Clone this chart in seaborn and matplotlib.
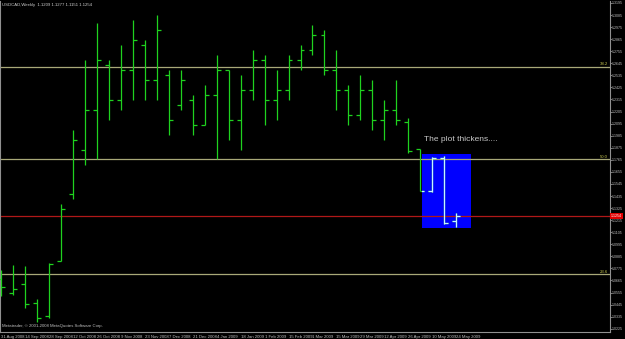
import matplotlib
matplotlib.use("Agg")
import matplotlib.pyplot as plt
import matplotlib.patches as mpatches
import matplotlib.transforms as mtransforms
import seaborn as sns
import numpy as np

# ---------------- data ----------------
week_labels = ["31 Aug 2008", "14 Sep 2008", "28 Sep 2008", "12 Oct 2008", "26 Oct 2008",
               "9 Nov 2008", "23 Nov 2008", "7 Dec 2008", "21 Dec 2008", "4 Jan 2009",
               "18 Jan 2009", "1 Feb 2009", "15 Feb 2009", "1 Mar 2009", "15 Mar 2009",
               "29 Mar 2009", "12 Apr 2009", "26 Apr 2009", "10 May 2009", "24 May 2009"]

opens = [1.0677, 1.0549, 1.0631, 1.0459, 1.0340, 1.0840, 1.1449, 1.1858, 1.2222, 1.2631,
         1.2313, 1.2586, 1.2813, 1.2495, 1.2540, 1.2268, 1.2313, 1.2086, 1.2358, 1.2586,
         1.2131, 1.2404, 1.2677, 1.2313, 1.2404, 1.2677, 1.2768, 1.2904, 1.2586, 1.2404,
         1.2177, 1.2404, 1.2131, 1.2222, 1.2113, 1.1868, 1.1477, 1.1777, 1.1209]
highs = [1.0759, 1.0804, 1.0795, 1.0495, 1.0822, 1.1359, 1.2040, 1.2677, 1.3013, 1.2677,
         1.2813, 1.3040, 1.2858, 1.3086, 1.2586, 1.2586, 1.2358, 1.2449, 1.2722, 1.2586,
         1.2540, 1.2768, 1.2722, 1.2586, 1.2722, 1.2813, 1.2995, 1.2949, 1.2768, 1.2449,
         1.2540, 1.2495, 1.2313, 1.2495, 1.2149, 1.1868, 1.1795, 1.1804, 1.1277]
lows = [1.0522, 1.0531, 1.0413, 1.0286, 1.0322, 1.0840, 1.1404, 1.1722, 1.1768, 1.2131,
        1.2222, 1.2313, 1.2313, 1.2313, 1.1995, 1.2222, 1.1995, 1.2086, 1.1768, 1.1949,
        1.1858, 1.2313, 1.2086, 1.2131, 1.2313, 1.2586, 1.2722, 1.2540, 1.2222, 1.2086,
        1.2131, 1.2040, 1.1949, 1.2086, 1.1831, 1.1477, 1.1468, 1.1177, 1.1151]
closes = [1.0604, 1.0586, 1.0450, 1.0322, 1.0813, 1.1313, 1.1949, 1.2222, 1.2677, 1.2313,
          1.2586, 1.2858, 1.2495, 1.2949, 1.2131, 1.2495, 1.2086, 1.2358, 1.2586, 1.2131,
          1.2404, 1.2677, 1.2313, 1.2404, 1.2677, 1.2768, 1.2904, 1.2586, 1.2404, 1.2177,
          1.2404, 1.2131, 1.2222, 1.2131, 1.1849, 1.1477, 1.1777, 1.1186, 1.1254]

price_ticks = [1.3195, 1.3085, 1.2975, 1.2865, 1.2755, 1.2645, 1.2535, 1.2425, 1.2315,
               1.2205, 1.2095, 1.1985, 1.1875, 1.1765, 1.1655, 1.1545, 1.1435, 1.1325,
               1.1215, 1.1105, 1.0995, 1.0885, 1.0775, 1.0665, 1.0555, 1.0445, 1.0335,
               1.0225]

fib_levels = [1.2613, 1.1768, 1.0722]
fib_labels = ["38.2", "50.0", "23.6"]
bid_price = 1.1254
box_x = [35.17, 39.25]
box_y = [1.1140, 1.1822]
note_text = "The plot thickens...."
title_text = "USDCAD,Weekly  1.1209 1.1277 1.1151 1.1254"
footer_text = "Metatrader, \u00a9 2001-2008 MetaQuotes Software Corp."

# ---------------- figure ----------------
sns.set_theme(style="dark")
plt.rcParams['font.family'] = ['Liberation Sans', 'DejaVu Sans']

fig = plt.figure(figsize=(6.25, 3.39), dpi=100, facecolor="black")
ax = fig.add_axes([0.0, 7 / 339, 610 / 625, 331 / 339])
ax.set_facecolor("black")

x = np.arange(len(opens))
green = "#1fd21f"
lw = 0.9
tick_len = 0.33
small = 3.1
ysmall = 2.6

# box behind bars
rect = mpatches.Rectangle((box_x[0], box_y[0]), box_x[1] - box_x[0], box_y[1] - box_y[0],
                          facecolor="#0000ff", edgecolor="none", zorder=1)
ax.add_patch(rect)

blend = mtransforms.blended_transform_factory(ax.transAxes, ax.transData)

# horizontal level lines
for lvl, lab in zip(fib_levels, fib_labels):
    ax.axhline(lvl, color="#a8a878", lw=0.9, zorder=2)
    ax.text(0.997, lvl + 0.0004, lab, transform=blend,
            ha="right", va="bottom", fontsize=small, color="#c8c850")
ax.axhline(bid_price, color="#b01818", lw=0.9, zorder=2)


def draw_bars(color, clip=None, z=3):
    arts = []
    arts.append(ax.vlines(x, lows, highs, color=color, lw=lw, zorder=z))
    arts.append(ax.hlines(opens, x - tick_len, x, color=color, lw=lw, zorder=z))
    arts.append(ax.hlines(closes, x, x + tick_len, color=color, lw=lw, zorder=z))
    if clip is not None:
        for a in arts:
            a.set_clip_path(clip)


draw_bars(green)
clip_rect = mpatches.Rectangle((box_x[0], box_y[0]), box_x[1] - box_x[0], box_y[1] - box_y[0],
                               transform=ax.transData, facecolor="none", edgecolor="none")
draw_bars("#c8f4ff", clip=clip_rect, z=4)

ax.text(35.33, 1.1949, note_text, fontsize=6.0, color="#c8c8c8", ha="left", va="center", zorder=5)

# axes limits
ax.set_xlim(-0.1, 50.85)
ax.set_ylim(1.0195, 1.3213)

# x ticks
ax.set_xticks(x[::2])
ax.set_xticklabels(week_labels, ha="left", fontsize=small, color="#c0c0c0")
ax.tick_params(axis="x", colors="#909090", length=1.5, width=0.6, pad=0.5, labelcolor="#c0c0c0")

# y ticks on the right
ax.yaxis.tick_right()
ax.set_yticks(price_ticks)
ax.set_yticklabels([f"{p:.4f}" for p in price_ticks], fontsize=ysmall, color="#c0c0c0")
ax.tick_params(axis="y", colors="#909090", length=1.2, width=0.6, pad=0.4, labelcolor="#c0c0c0")
ax.grid(False)

for side in ["left", "right", "bottom"]:
    ax.spines[side].set_visible(True)
    ax.spines[side].set_color("#909090")
    ax.spines[side].set_linewidth(0.8)
ax.spines["top"].set_visible(False)

# bid label box on the price scale
ax.text(1.001, bid_price, f"{bid_price:.4f}", transform=blend,
        ha="left", va="center", fontsize=ysmall, color="white", clip_on=False,
        bbox=dict(boxstyle="square,pad=0.3", facecolor="#e00000", edgecolor="none"), zorder=6)

ax.text(0.003, 0.995, title_text, transform=ax.transAxes, ha="left", va="top",
        fontsize=small, color="#d0d0d0")
ax.text(0.003, 0.012, footer_text, transform=ax.transAxes, ha="left", va="bottom",
        fontsize=small, color="#c0c0c0")

fig.savefig("out.png", dpi=100, facecolor="black")
